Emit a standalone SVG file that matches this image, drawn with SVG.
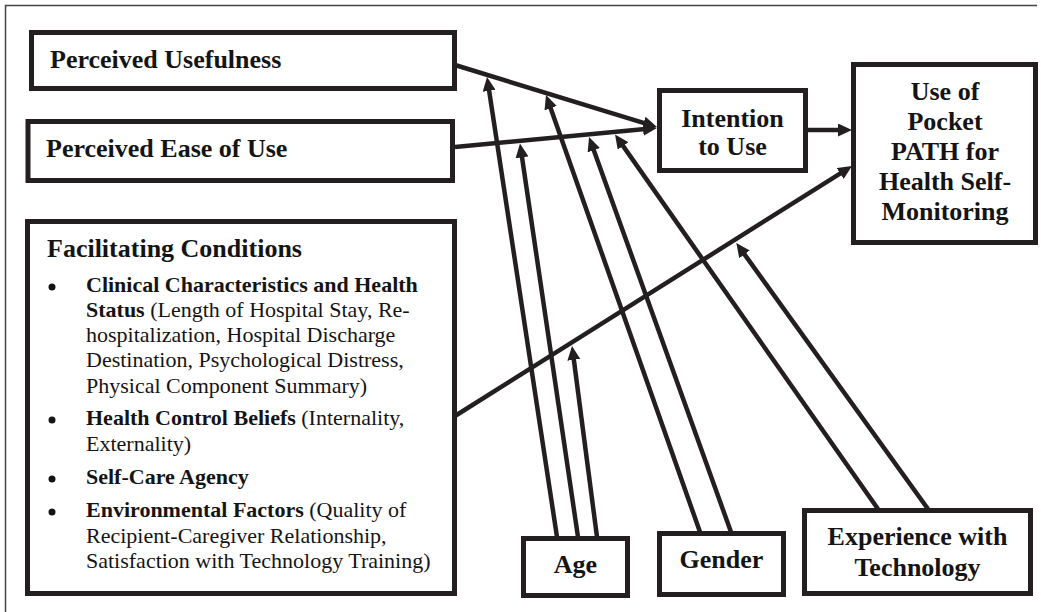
<svg xmlns="http://www.w3.org/2000/svg" width="1041" height="612" viewBox="0 0 1041 612">
<style>
.box{fill:#ffffff;stroke:#231f20;stroke-width:5}
.t{font-family:"Liberation Serif","Times New Roman",serif;font-weight:bold;font-size:26px;fill:#141414}
.c{text-anchor:middle}
.b{font-family:"Liberation Serif","Times New Roman",serif;font-size:22px;fill:#141414}
.bb{font-weight:bold}
.ln{fill:none;stroke:#231f20;stroke-width:4.5;marker-end:url(#ah)}
.frame{fill:none;stroke:#444;stroke-width:1.5}
</style>
<defs>
<marker id="ah" markerUnits="userSpaceOnUse" markerWidth="14" markerHeight="13" refX="5" refY="6.5" orient="auto">
<path d="M0,0 L14,6.5 L0,13 z" fill="#231f20"/>
</marker>
</defs>
<rect width="1041" height="612" fill="#ffffff"/>
<path class="frame" d="M5.5,612 L5.5,5.5 L1037,5.5"/>

<g id="perceived-usefulness">
<rect class="box" x="31.5" y="32.5" width="423" height="56"/>
<text class="t" x="50" y="68">Perceived Usefulness</text>
</g>
<g id="perceived-ease">
<rect class="box" x="28" y="121.5" width="424.5" height="59"/>
<text class="t" x="46" y="157">Perceived Ease of Use</text>
</g>
<g id="facilitating-conditions">
<rect class="box" x="27.5" y="221.5" width="427" height="372"/>
<text class="t" x="47" y="257">Facilitating Conditions</text>
<circle cx="52" cy="287" r="3.5" fill="#141414"/>
<circle cx="52" cy="420" r="3.5" fill="#141414"/>
<circle cx="52" cy="479" r="3.5" fill="#141414"/>
<circle cx="52" cy="512" r="3.5" fill="#141414"/>
<text class="b">
<tspan x="86" y="292" class="bb">Clinical Characteristics and Health</tspan>
<tspan x="86" y="317"><tspan class="bb">Status</tspan> (Length of Hospital Stay, Re-</tspan>
<tspan x="86" y="342">hospitalization, Hospital Discharge</tspan>
<tspan x="86" y="367">Destination, Psychological Distress,</tspan>
<tspan x="86" y="393">Physical Component Summary)</tspan>
<tspan x="86" y="425"><tspan class="bb">Health Control Beliefs</tspan> (Internality,</tspan>
<tspan x="86" y="451">Externality)</tspan>
<tspan x="86" y="484" class="bb">Self-Care Agency</tspan>
<tspan x="86" y="517"><tspan class="bb">Environmental Factors</tspan> (Quality of</tspan>
<tspan x="86" y="543">Recipient-Caregiver Relationship,</tspan>
<tspan x="86" y="568">Satisfaction with Technology Training)</tspan>
</text>
</g>
<g id="intention">
<rect class="box" x="659.5" y="90.5" width="146" height="80"/>
<text class="t c" x="732.5" y="127">Intention</text>
<text class="t c" x="732.5" y="155">to Use</text>
</g>
<g id="use-pocket-path">
<rect class="box" x="853.5" y="64.5" width="182" height="178"/>
<text class="t c" x="945" y="100">Use of</text>
<text class="t c" x="945" y="130">Pocket</text>
<text class="t c" x="945" y="160">PATH for</text>
<text class="t c" x="945" y="190">Health Self-</text>
<text class="t c" x="945" y="220">Monitoring</text>
</g>
<g id="age">
<rect class="box" x="523.5" y="538.5" width="104" height="57"/>
<text class="t c" x="575.5" y="573">Age</text>
</g>
<g id="gender">
<rect class="box" x="659.5" y="533.5" width="124" height="61"/>
<text class="t c" x="721.5" y="568">Gender</text>
</g>
<g id="experience">
<rect class="box" x="804.5" y="510.5" width="226" height="83"/>
<text class="t c" x="917.5" y="545">Experience with</text>
<text class="t c" x="917.5" y="576">Technology</text>
</g>

<g id="connectors">
<line class="ln" x1="455" y1="65" x2="648.4" y2="124.4"/>
<line class="ln" x1="455" y1="147" x2="648" y2="128.8"/>
<line class="ln" x1="808" y1="130" x2="843" y2="130"/>
<line class="ln" x1="455" y1="416" x2="844.4" y2="170.8"/>
<line class="ln" x1="557" y1="537" x2="488.4" y2="85.9"/>
<line class="ln" x1="578" y1="537" x2="521.3" y2="152.4"/>
<line class="ln" x1="597" y1="537" x2="573.2" y2="354.9"/>
<line class="ln" x1="700" y1="532" x2="549" y2="103.5"/>
<line class="ln" x1="731" y1="532" x2="592.1" y2="145.5"/>
<line class="ln" x1="878" y1="509" x2="620.2" y2="141.9"/>
<line class="ln" x1="928" y1="509" x2="741.6" y2="250.3"/>
</g>
</svg>
